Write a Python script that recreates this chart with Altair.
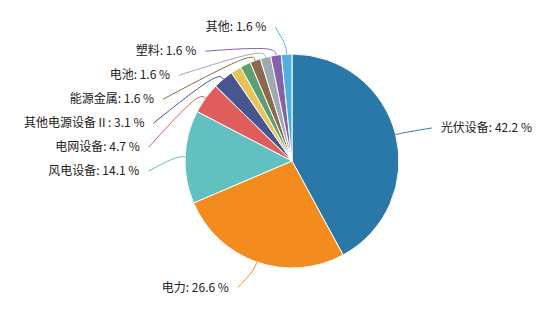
import altair as alt
import pandas as pd

# ---- data (clockwise from 12 o'clock) ----
names = ["光伏设备", "电力", "风电设备", "电网设备", "其他电源设备Ⅱ",
         "未显示A", "未显示B", "能源金属", "电池", "塑料", "其他"]
values = [42.2, 26.6, 14.1, 4.7, 3.1, 1.6, 1.6, 1.6, 1.6, 1.6, 1.6]
colors = ["#2a78a8", "#f48b1e", "#62c0c0", "#e05d5d", "#47568f",
          "#e8c35a", "#5f9e6e", "#8d6a4f", "#a0a8b0", "#8562b0", "#4fb0e0"]
labelled = [True, True, True, True, True, False, False, True, True, True, True]

df = pd.DataFrame({
    "idx": list(range(len(names))),
    "name": names,
    "value": values,
    "labelled": labelled,
})

# ---- layout constants ----
W, H = 542, 311
CX, CY = 292, 161
R0 = 107      # pie radius
R1 = 134      # label ring radius
L1 = 9        # first leader segment
L2 = 10       # horizontal leader offset
GAP = 9       # gap between line end and text
STEP = 24     # min vertical label spacing
FONT = "Noto Sans CJK SC"

color_scale = alt.Scale(domain=names, range=colors)
base = alt.Chart(df)

arcs = base.mark_arc(outerRadius=R0, stroke="white", strokeWidth=1).encode(
    theta=alt.Theta("value:Q", stack=True),
    order=alt.Order("idx:Q", sort="ascending"),
    color=alt.Color("name:N", scale=color_scale, legend=None),
    x=alt.value(CX),
    y=alt.value(CY),
)

lab = (
    base.transform_window(
        cum="sum(value)", sort=[alt.SortField("idx", order="ascending")], frame=[None, 0]
    )
    .transform_joinaggregate(total="sum(value)")
    .transform_calculate(mid="(datum.cum - datum.value/2)/datum.total*2*PI")
    .transform_filter("datum.labelled")
    .transform_calculate(
        sgn="sin(datum.mid) >= 0 ? 1 : -1",
        p0x=f"{CX} + {R0}*sin(datum.mid)",
        p0y=f"{CY} - {R0}*cos(datum.mid)",
        p1x=f"{CX} + {R0 + L1}*sin(datum.mid)",
        p1y=f"{CY} - {R0 + L1}*cos(datum.mid)",
        ny=f"{CY} - {R1}*cos(datum.mid)",
    )
    .transform_calculate(skey="datum.sgn > 0 ? datum.idx : -datum.idx")
    .transform_window(
        k="row_number()", groupby=["sgn"], sort=[alt.SortField("skey", order="ascending")]
    )
    .transform_calculate(a=f"datum.ny - (datum.k - 1)*{STEP}")
    .transform_window(
        cm="max(a)", groupby=["sgn"], sort=[alt.SortField("skey", order="ascending")],
        frame=[None, 0]
    )
    .transform_calculate(ly=f"datum.cm + (datum.k - 1)*{STEP}")
    .transform_calculate(
        ex=f"{CX} + datum.sgn*sqrt(max({R1}*{R1} - pow(datum.ly - {CY}, 2), 0))"
    )
    .transform_calculate(
        lx=f"datum.ex + datum.sgn*{L2}",
        tx=f"datum.ex + datum.sgn*({L2} + {GAP})",
        label="datum.name + ': ' + format(datum.value, '.1f') + ' %'",
    )
)

lines = (
    lab.transform_calculate(s0="0", s1="1", s2="2")
    .transform_fold(["s0", "s1", "s2"], as_=["step", "sv"])
    .transform_calculate(
        px="datum.step == 's0' ? datum.p0x : (datum.step == 's1' ? datum.p1x : datum.lx)",
        py="datum.step == 's0' ? datum.p0y : (datum.step == 's1' ? datum.p1y : datum.ly)",
    )
    .mark_line(interpolate="basis", strokeWidth=1)
    .encode(
        x=alt.X("px:Q", scale=None, axis=None),
        y=alt.Y("py:Q", scale=None, axis=None),
        detail="name:N",
        order=alt.Order("sv:Q"),
        color=alt.Color("name:N", scale=color_scale, legend=None),
    )
)

text_left = lab.transform_filter("datum.sgn < 0").mark_text(
    align="right", baseline="middle", font=FONT, fontSize=12, color="#222"
).encode(
    x=alt.X("tx:Q", scale=None, axis=None),
    y=alt.Y("ly:Q", scale=None, axis=None),
    text="label:N",
)

text_right = lab.transform_filter("datum.sgn > 0").mark_text(
    align="left", baseline="middle", font=FONT, fontSize=12, color="#222"
).encode(
    x=alt.X("tx:Q", scale=None, axis=None),
    y=alt.Y("ly:Q", scale=None, axis=None),
    text="label:N",
)

chart = (
    alt.layer(arcs, lines, text_left, text_right)
    .properties(width=W, height=H, autosize=alt.AutoSizeParams(type="none"), padding=0,
                background="white")
    .configure_view(stroke=None)
)

chart.save("out.html", embed_options={"renderer": "svg", "actions": False})
